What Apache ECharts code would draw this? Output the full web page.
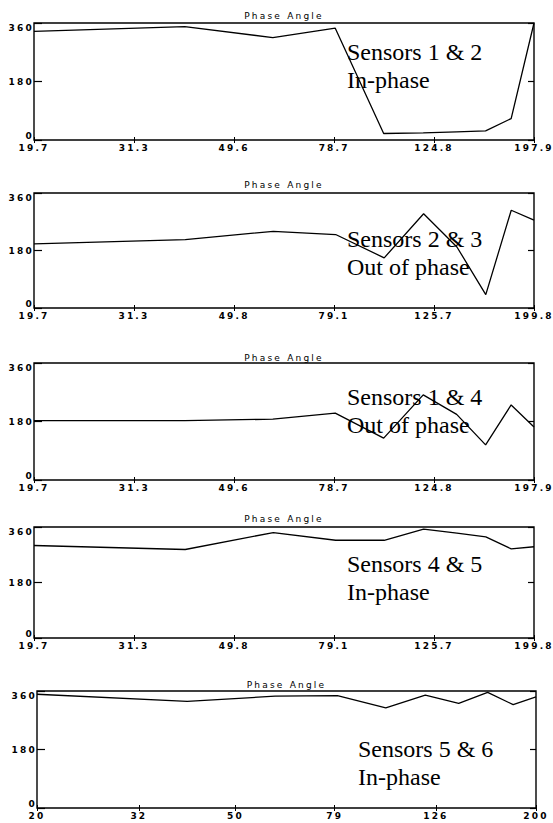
<!DOCTYPE html>
<html>
<head>
<meta charset="utf-8">
<script src="https://cdn.jsdelivr.net/npm/echarts@6/dist/echarts.min.js"></script>
<style>
html,body{margin:0;padding:0;background:#fff;}
#chart{width:553px;height:823px;}
#chart svg text{letter-spacing:2.2px;}
#chart svg text[style*="Serif"]{letter-spacing:0;}
</style>
</head>
<body>
<div id="chart"></div>
<script>
// ---- data (frequency in Hz, phase angle in degrees) ----
const FREQ_1 = [19.7, 39.5, 59.3, 79.1, 98.9, 118.7, 138.5, 158.3, 178.1, 197.9];
const FREQ_2 = [19.7, 39.7, 59.7, 79.7, 99.8, 119.8, 139.8, 159.8, 179.8, 199.8];
const FREQ_5 = [20, 40, 60, 80, 100, 120, 140, 160, 180, 200];

const PHASE_12 = [334, 349, 315, 344, 20, 22, 25, 28, 66, 360];
const PHASE_23 = [201, 214, 240, 230, 157, 295, 191, 42, 306, 275];
const PHASE_14 = [183, 183, 187, 206, 129, 262, 202, 108, 231, 163];
const PHASE_45 = [300, 287, 342, 317, 317, 353, 340, 328, 289, 296];
const PHASE_56 = [350, 328, 344, 346, 308, 347, 322, 356, 318, 342];

const XTICKS_A = ['19.7', '31.3', '49.6', '78.7', '124.8', '197.9'];
const XTICKS_B = ['19.7', '31.3', '49.8', '79.1', '125.7', '199.8'];
const XTICKS_C = ['20', '32', '50', '79', '126', '200'];

const YTICKS = [0, 180, 360];

const TITLE = 'Phase Angle';
const NOTES = [
  ['Sensors 1 & 2', 'In-phase'],
  ['Sensors 2 & 3', 'Out of phase'],
  ['Sensors 1 & 4', 'Out of phase'],
  ['Sensors 4 & 5', 'In-phase'],
  ['Sensors 5 & 6', 'In-phase']
];

// ---- panel definitions ----
const PANELS = [
  { freq: FREQ_1, phase: PHASE_12, ticks: XTICKS_A },
  { freq: FREQ_2, phase: PHASE_23, ticks: XTICKS_B },
  { freq: FREQ_1, phase: PHASE_14, ticks: XTICKS_A },
  { freq: FREQ_2, phase: PHASE_45, ticks: XTICKS_B },
  { freq: FREQ_5, phase: PHASE_56, ticks: XTICKS_C }
];

// layout (pixels)
const LAYOUT = [
  { left: 34, top: 23,  width: 500, height: 117, titleY: 16,  noteX: 347, noteY: 38 },
  { left: 34, top: 193, width: 500, height: 115, titleY: 185, noteX: 347, noteY: 225 },
  { left: 34, top: 363, width: 500, height: 117, titleY: 358, noteX: 347, noteY: 383 },
  { left: 34, top: 527, width: 500, height: 111, titleY: 519, noteX: 347, noteY: 550 },
  { left: 37, top: 691, width: 499, height: 117, titleY: 685, noteX: 358, noteY: 735 }
];

const SANS = 'DejaVu Sans';
const SERIF = 'Liberation Serif';

const grids = [], xAxes = [], yAxes = [], series = [], graphics = [];

PANELS.forEach((p, i) => {
  const L = LAYOUT[i];
  grids.push({
    left: L.left, top: L.top, width: L.width, height: L.height,
    show: true, borderColor: '#000', borderWidth: 1.4, backgroundColor: 'transparent',
    containLabel: false
  });
  const tickVals = p.ticks.map(t => Math.log10(parseFloat(t)));
  const xmin = tickVals[0], xmax = tickVals[tickVals.length - 1];
  const fmt = (v) => {
    let best = 0, bd = Infinity;
    tickVals.forEach((t, k) => { const d = Math.abs(t - v); if (d < bd) { bd = d; best = k; } });
    return p.ticks[best];
  };
  const xBase = {
    type: 'value', gridIndex: i, min: xmin, max: xmax,
    axisLine: { show: false }, splitLine: { show: false }
  };
  xAxes.push(Object.assign({}, xBase, {
    position: 'bottom',
    axisTick: { show: true, inside: true, length: 3, lineStyle: { color: '#000', width: 1 }, customValues: tickVals },
    axisLabel: {
      show: true, customValues: tickVals, formatter: fmt, margin: 3,
      fontSize: 9, fontWeight: 'bold', fontFamily: SANS, color: '#000',
      showMinLabel: true, showMaxLabel: true, hideOverlap: false
    }
  }));
  xAxes.push(Object.assign({}, xBase, {
    position: 'top',
    axisTick: { show: true, inside: true, length: 3, lineStyle: { color: '#000', width: 1 }, customValues: tickVals },
    axisLabel: { show: false }
  }));
  const yBase = {
    type: 'value', gridIndex: i, min: YTICKS[0], max: YTICKS[YTICKS.length - 1],
    interval: YTICKS[1] - YTICKS[0],
    axisLine: { show: false }, splitLine: { show: false }
  };
  yAxes.push(Object.assign({}, yBase, {
    position: 'left',
    axisTick: { show: true, inside: true, length: 8, lineStyle: { color: '#000', width: 1.2 } },
    axisLabel: {
      show: true, margin: 0, fontSize: 9, fontWeight: 'bold', fontFamily: SANS, color: '#000',
      showMinLabel: true, showMaxLabel: true,
      verticalAlignMaxLabel: 'top', verticalAlignMinLabel: 'bottom'
    }
  }));
  yAxes.push(Object.assign({}, yBase, {
    position: 'right',
    axisTick: { show: true, inside: true, length: 6, lineStyle: { color: '#000', width: 1.2 } },
    axisLabel: { show: false }
  }));
  series.push({
    type: 'line', xAxisIndex: 2 * i, yAxisIndex: 2 * i,
    data: p.freq.map((f, k) => [Math.log10(f), p.phase[k]]),
    symbol: 'none', clip: true, silent: true,
    lineStyle: { color: '#000', width: 1.3 },
    animation: false
  });
  graphics.push({
    type: 'text', x: L.left + L.width / 2, y: L.titleY, silent: true,
    style: {
      text: TITLE, fill: '#000', fontSize: 9, fontFamily: SANS,
      align: 'center', textAlign: 'center', verticalAlign: 'middle', textVerticalAlign: 'middle'
    }
  });
  graphics.push({
    type: 'text', x: L.noteX, y: L.noteY, silent: true,
    style: {
      text: NOTES[i].join('\n'), fill: '#000', fontSize: 24, fontFamily: SERIF, lineHeight: 28,
      align: 'left', textAlign: 'left', verticalAlign: 'top', textVerticalAlign: 'top'
    }
  });
});

const chart = echarts.init(document.getElementById('chart'), null, { renderer: 'svg' });
chart.setOption({
  animation: false,
  backgroundColor: '#fff',
  grid: grids,
  xAxis: xAxes,
  yAxis: yAxes,
  series: series,
  graphic: graphics
});
</script>
</body>
</html>
